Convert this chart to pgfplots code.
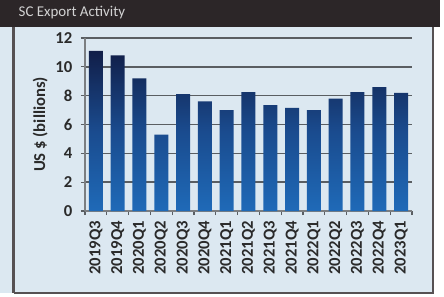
\documentclass[border=0pt]{standalone}
\usepackage{pgfplots}
\pgfplotsset{compat=1.18}
\usepackage{fontspec}
\setmainfont{Carlito}
\definecolor{panel}{HTML}{DCE8F1}
\definecolor{titlebar}{HTML}{2C2628}
\definecolor{barTop}{HTML}{111E48}
\definecolor{barMid}{HTML}{1A4B8E}
\definecolor{barBot}{HTML}{1F6AB8}
\definecolor{gridc}{HTML}{5A5E62}
\definecolor{txt}{HTML}{2A2A2A}
\begin{document}
\begin{tikzpicture}[x=0.75pt,y=0.75pt]
\path[use as bounding box] (0,0) rectangle (444,297);
\fill[white] (0,0) rectangle (444,297);
% panel
\fill[panel] (0,4) rectangle (434,270);
\draw[titlebar!80, line width=1.6pt] (13.5,4) -- (433,4) -- (433,270);
\draw[titlebar!80, line width=1.6pt] (13.5,4) -- (13.5,270);
% title bar
\fill[titlebar] (0,270) rectangle (440,297);
\node[anchor=west, text=gray!35, font=\fontsize{11.2}{12}\selectfont] at (14,284) {SC Export Activity};
\begin{axis}[
  at={(63.75pt,64.5pt)}, anchor=south west,
  scale only axis, width=245.25pt, height=129.75pt,
  xmin=-0.5, xmax=14.5, ymin=0, ymax=12,
  ytick={0,2,...,12},
  xtick={0,...,14},
  xticklabels={2019Q3,2019Q4,2020Q1,2020Q2,2020Q3,2020Q4,2021Q1,2021Q2,2021Q3,2021Q4,2022Q1,2022Q2,2022Q3,2022Q4,2023Q1},
  x tick label style={rotate=90, anchor=east, font=\fontsize{12.5}{13}\selectfont\bfseries, text=txt, xshift=-1pt},
  y tick label style={font=\fontsize{12.5}{13}\selectfont\bfseries, text=txt, xshift=-3pt},
  /pgf/number format/assume math mode=true,
  minor xtick={-0.5,0.5,...,14.5},
  major x tick style={draw=none},
  minor x tick style={draw=gridc, line width=0.8pt},
  minor tick length=3pt,
  major tick length=3pt,
  tick align=outside,
  ytick style={draw=gridc, line width=0.8pt},
  axis x line*=bottom, axis y line*=left,
  axis line style={draw=gridc!80, line width=0.8pt, -},
  ymajorgrids, grid style={draw=gridc, line width=1.1pt},
  ylabel={US \$ (billions)},
  ylabel style={font=\fontsize{12.5}{13}\selectfont\bfseries, text=txt},
  ylabel shift=-1pt,
  ybar, bar width=10.5pt,
  axis background/.style={fill=none},
]
\addplot[draw=none, top color=barTop, bottom color=barBot, middle color=barMid, shading angle=0] coordinates {
(0,11.1) (1,10.8) (2,9.2) (3,5.3) (4,8.1) (5,7.6) (6,7.0) (7,8.25) (8,7.35) (9,7.15) (10,7.0) (11,7.8) (12,8.25) (13,8.6) (14,8.2)
};
\end{axis}
\end{tikzpicture}
\end{document}
